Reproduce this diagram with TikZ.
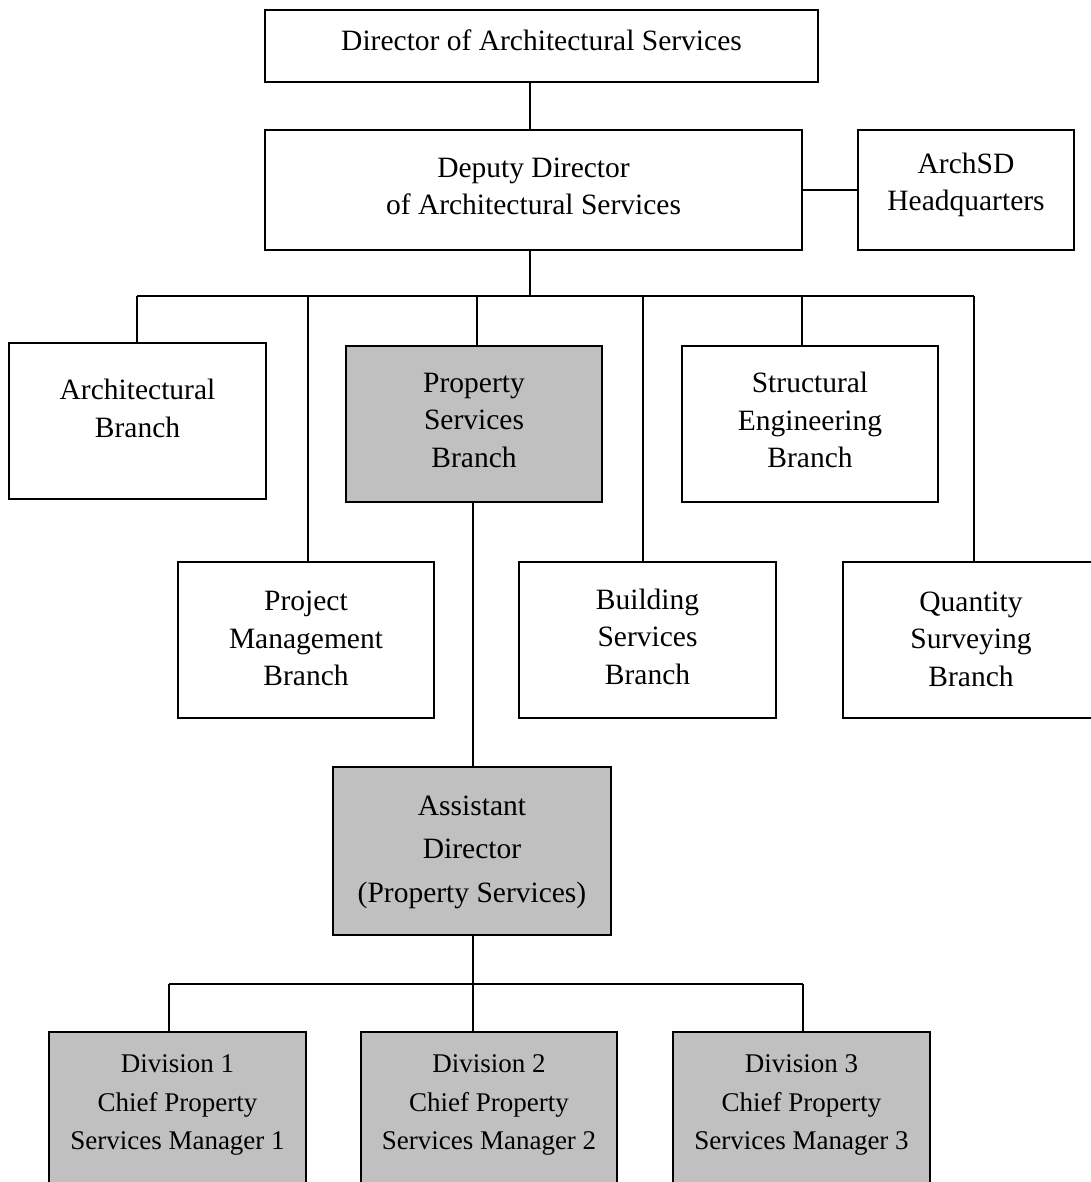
\documentclass[tikz,border=0pt]{standalone}
\usepackage{fontspec}
\setmainfont{Liberation Serif}
\definecolor{boxgray}{HTML}{C0C0C0}
\begin{document}
\begin{tikzpicture}[x=1pt,y=-1pt,
  box/.style={draw=black, line width=1.8pt, fill=white, inner sep=0pt, rectangle},
  graybox/.style={box, fill=boxgray},
  std/.style={minimum width=256pt, minimum height=156pt},
  lbl/.style={inner sep=0pt, align=center, font=\fontsize{29.5}{37.5}\selectfont},
  lblad/.style={inner sep=0pt, align=center, font=\fontsize{29.5}{43.5}\selectfont},
  lbldiv/.style={inner sep=0pt, align=center, font=\fontsize{27}{38.5}\selectfont},
  conn/.style={draw=black, line width=1.5pt}]
\useasboundingbox (0,0) rectangle (1090,1182);
% boxes
\node[box, minimum width=553pt, minimum height=72pt] (dir) at (541.5,46) {};
\node[box, minimum width=537pt, minimum height=120pt] (dep) at (533.5,190) {};
\node[box, minimum width=216pt, minimum height=120pt] (hq) at (966,190) {};
\node[box, std, minimum width=257pt] (arch) at (137.5,421) {};
\node[graybox, std] (psb) at (474,424) {};
\node[box, std] (se) at (810,424) {};
\node[box, std] (pm) at (306,640) {};
\node[box, std, minimum width=257pt] (bs) at (647.5,640) {};
\node[box, std] (qs) at (971,640) {};
\node[graybox, minimum width=278pt, minimum height=168pt] (ad) at (472,851) {};
\node[graybox, minimum width=257pt, minimum height=180pt] (d1) at (177.5,1122) {};
\node[graybox, minimum width=256pt, minimum height=180pt] (d2) at (489,1122) {};
\node[graybox, minimum width=257pt, minimum height=180pt] (d3) at (801.5,1122) {};
% texts
\node[lbl] (dirt) at (541.5,40) {Director of Architectural Services};
\node[lbl] (dept) at (533.5,186.5) {Deputy Director\\of Architectural Services};
\node[lbl] (hqt) at (966,185) {ArchSD\\Headquarters};
\node[lbl] (archt) at (137.5,408.5) {Architectural\\Branch};
\node[lbl] (psbt) at (474,420) {Property\\Services\\Branch};
\node[lbl] (set) at (810,420) {Structural\\Engineering\\Branch};
\node[lbl] (pmt) at (306,638.5) {Project\\Management\\Branch};
\node[lbl] (bst) at (647.5,636.5) {Building\\Services\\Branch};
\node[lbl] (qst) at (971,639) {Quantity\\Surveying\\Branch};
\node[lblad] (adt) at (472,852) {Assistant\\Director\\(Property Services)};
\node[lbldiv] (d1t) at (177.5,1105) {Division 1\\Chief Property\\Services Manager 1};
\node[lbldiv] (d2t) at (489,1105) {Division 2\\Chief Property\\Services Manager 2};
\node[lbldiv] (d3t) at (801.5,1105) {Division 3\\Chief Property\\Services Manager 3};
% connector coordinates
\coordinate (c0) at (530,296);
\coordinate (ba) at (137,296);
\coordinate (bp) at (308,296);
\coordinate (bc) at (477,296);
\coordinate (bb) at (643,296);
\coordinate (bs2) at (802,296);
\coordinate (bq) at (974,296);
\coordinate (e1) at (169,984);
\coordinate (e2) at (473,984);
\coordinate (e3) at (803,984);
% connectors
\draw[conn] (c0 |- dir.south) -- (c0 |- dep.north);
\draw[conn] (dep.east) -- (hq.west);
\draw[conn] (c0 |- dep.south) -- (c0);
\draw[conn] (ba) -- (bq);
\draw[conn] (ba) -- (ba |- arch.north);
\draw[conn] (bp) -- (bp |- pm.north);
\draw[conn] (bc) -- (bc |- psb.north);
\draw[conn] (bb) -- (bb |- bs.north);
\draw[conn] (bs2) -- (bs2 |- se.north);
\draw[conn] (bq) -- (bq |- qs.north);
\draw[conn] (e2 |- psb.south) -- (e2 |- ad.north);
\draw[conn] (e2 |- ad.south) -- (e2 |- d2.north);
\draw[conn] (e1) -- (e3);
\draw[conn] (e1) -- (e1 |- d1.north);
\draw[conn] (e3) -- (e3 |- d3.north);
\end{tikzpicture}
\end{document}
